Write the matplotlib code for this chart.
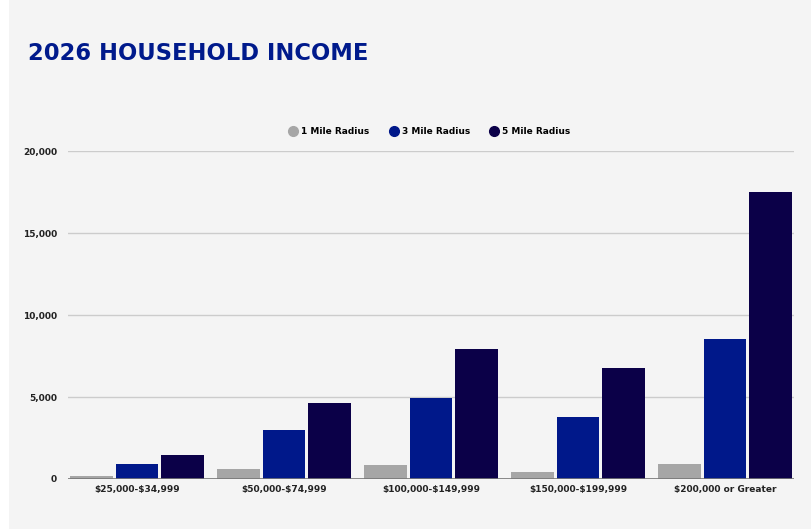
import numpy as np
import matplotlib
matplotlib.use("Agg")
import matplotlib.pyplot as plt
from matplotlib.patches import Rectangle
from matplotlib.lines import Line2D

plt.rcParams['font.family'] = ['DejaVu Sans']
# dollar signs in the labels are literal, not math
plt.rcParams['text.parse_math'] = False

categories = ["$25,000-$34,999", "$50,000-$74,999", "$100,000-$149,999",
              "$150,000-$199,999", "$200,000 or Greater"]
mile1 = [200, 600, 850, 420, 900]
mile3 = [900, 2980, 4950, 3770, 8530]
mile5 = [1450, 4640, 7930, 6760, 17530]
series_names = ["1 Mile Radius", "3 Mile Radius", "5 Mile Radius"]
colors = ["#a6a6a6", "#00188a", "#0b0048"]
yticks = [0, 5000, 10000, 15000, 20000]

fig = plt.figure(figsize=(8.11, 5.29), dpi=100, facecolor="#f4f4f4")
# white strip on the far left
fig.patches.append(Rectangle((0, 0), 9 / 811, 1, transform=fig.transFigure,
                             facecolor="white", edgecolor="none", zorder=-1))

ax = fig.add_axes([68 / 811, 50 / 529, (794 - 68) / 811, (479 - 151) / 529])
ax.set_facecolor("none")

x = np.arange(len(categories))
w = 0.29
off = 0.31
for i, (vals, name, c) in enumerate(zip([mile1, mile3, mile5], series_names, colors)):
    ax.bar(x + (i - 1) * off, vals, width=w, color=c, label=name, zorder=3)

ax.set_xlim(-0.47, 4.47)
ax.set_ylim(0, 20000)
ax.set_yticks(yticks)
ax.set_yticklabels([f"{v:,}" for v in yticks], fontsize=6.5, fontweight="bold", color="#222222")
ax.set_xticks(x)
ax.set_xticklabels(categories, fontsize=6.5, fontweight="bold", color="#222222")
ax.tick_params(axis="both", length=0, pad=4)
ax.tick_params(axis="y", pad=8)

ax.grid(axis="y", color="#cccccc", linewidth=1, zorder=0)
ax.axhline(0, color="#777777", linewidth=1.2, zorder=4)
for s in ax.spines.values():
    s.set_visible(False)

handles = [Line2D([0], [0], marker="o", color="none", markerfacecolor=c,
                  markeredgecolor=c, markersize=7) for c in colors]
leg = fig.legend(handles, series_names, loc="center", bbox_to_anchor=(429 / 811, 1 - 132 / 529),
                 ncol=3, frameon=False, prop={"size": 6.5, "weight": "bold"},
                 handletextpad=0.3, columnspacing=2.1, handlelength=1.2)

fig.text(28 / 811, 1 - 53 / 529, "2026 HOUSEHOLD INCOME", fontsize=16.3, fontweight="bold",
         color="#001a8c", va="center", ha="left")

fig.savefig("out.png", dpi=100, facecolor=fig.get_facecolor())
